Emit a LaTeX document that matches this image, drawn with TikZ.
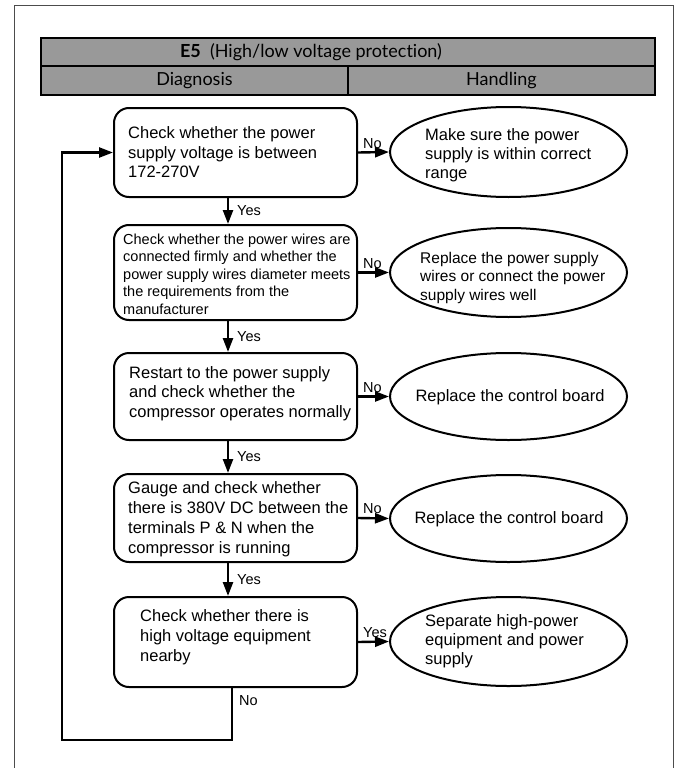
\documentclass[tikz,border=0pt]{standalone}
\usepackage{fontspec}
\setmainfont{Liberation Sans}
\newfontfamily\headfont[Ligatures=NoCommon]{Lato}
\usetikzlibrary{positioning}
\usetikzlibrary{arrows.meta}
\usetikzlibrary{shapes.geometric}

\tikzset{
  headcell/.style={draw, line width=1.8pt, fill=black!40, inner sep=0pt, font=\headfont\fontsize{18}{20}\selectfont},
  checkbox/.style={draw, line width=2pt, rounded corners=15pt, minimum width=243pt, inner sep=0pt},
  handlebox/.style={draw, line width=2pt, ellipse, minimum width=237pt, inner sep=0pt},
  boxtext/.style={anchor=west, align=left, inner sep=0pt, font=\fontsize{16.5}{19.5}\selectfont},
  handletext/.style={align=left, inner sep=0pt, font=\fontsize{16.5}{19}\selectfont},
  flow/.style={line width=2.4pt, -{Triangle[length=14pt,width=10pt]}},
  answer/.style={inner sep=0pt, font=\fontsize{14.5}{17}\selectfont},
}

\begin{document}
\begin{tikzpicture}[x=1pt, y=-1pt]
    \useasboundingbox (0,0) rectangle (683,768);
    \draw[black!70, line width=1pt] (14,768) -- (14,6) -- (673,6) -- (673,768);

    % header
    \node[headcell, minimum width=614pt, minimum height=28pt] (title) at (348,52) {};
    \node[inner sep=0pt, font=\headfont\fontsize{18}{20}\selectfont] (titletext) at (311,52) {\textbf{E5}\ \ (High/low voltage protection)};
    \node[headcell, minimum width=307pt, minimum height=29pt] (diag) at (194.5,80.5) {Diagnosis};
    \node[headcell, minimum width=307pt, minimum height=29pt] (hand) at (501.5,80.5) {Handling};

    % diagnosis steps
    \node[checkbox, minimum height=89pt] (c1) at (235.5,152.5) {};
    \node[boxtext] (t1) at (128,152.5) {Check whether the power\\supply voltage is between\\172-270V};

    \node[checkbox, minimum height=95pt] (c2) at (235.5,272.5) {};
    \node[boxtext, font=\fontsize{14.5}{17.5}\selectfont] (t2) at (123,274) {Check whether the power wires are\\connected firmly and whether the\\power supply wires diameter meets\\the requirements from the\\manufacturer};

    \node[checkbox, minimum height=87pt] (c3) at (235.5,396.5) {};
    \node[boxtext] (t3) at (129,393.5) {Restart to the power supply\\and check whether the\\compressor operates normally};

    \node[checkbox, minimum height=88pt] (c4) at (235.5,518) {};
    \node[boxtext, font=\fontsize{16.5}{20}\selectfont] (t4) at (128,519) {Gauge and check whether\\there is 380V DC between the\\terminals P \& N when the\\compressor is running};

    \node[checkbox, minimum height=90pt] (c5) at (235.5,642) {};
    \node[boxtext, font=\fontsize{16.5}{20}\selectfont] (t5) at (140,637) {Check whether there is\\high voltage equipment\\nearby};

    % handling
    \node[handlebox, minimum height=90pt] (h1) at (508.5,152) {};
    \node[handletext, anchor=west] (s1) at (425,155.5) {Make sure the power\\supply is within correct\\range};

    \node[handlebox, minimum height=89pt] (h2) at (508.5,272.5) {};
    \node[handletext, anchor=west, font=\fontsize{15.5}{18.5}\selectfont] (s2) at (420,277.5) {Replace the power supply\\wires or connect the power\\supply wires well};

    \node[handlebox, minimum height=87pt] (h3) at (508.5,396.5) {};
    \node[handletext] (s3) at (510,397) {Replace the control board};

    \node[handlebox, minimum height=87pt] (h4) at (508.5,518.5) {};
    \node[handletext] (s4) at (509,519) {Replace the control board};

    \node[handlebox, minimum height=89pt] (h5) at (508.5,641.5) {};
    \node[handletext, anchor=west] (s5) at (425,641) {Separate high-power\\equipment and power\\supply};

    % yes arrows
    \draw[flow] ([xshift=-7.5pt]c1.south) -- ([xshift=-7.5pt]c2.north) node[answer, midway, right=8pt] {Yes};
    \draw[flow] ([xshift=-7.5pt]c2.south) -- ([xshift=-7.5pt]c3.north) node[answer, midway, right=8pt] {Yes};
    \draw[flow] ([xshift=-7.5pt]c3.south) -- ([xshift=-7.5pt]c4.north) node[answer, midway, right=8pt] {Yes};
    \draw[flow] ([xshift=-7.5pt]c4.south) -- ([xshift=-7.5pt]c5.north) node[answer, midway, right=8pt] {Yes};

    % no arrows
    \draw[flow] (c1.east) -- (h1.west) node[answer, pos=0, above right=3pt and 4pt] {No};
    \draw[flow] (c2.east) -- (h2.west) node[answer, pos=0, above right=3pt and 4pt] {No};
    \draw[flow] (c3.east) -- (h3.west) node[answer, pos=0, above right=3pt and 4pt] {No};
    \draw[flow] (c4.east) -- (h4.west) node[answer, pos=0, above right=3pt and 4pt] {No};
    \draw[flow] (c5.east) -- (h5.west) node[answer, pos=0, above right=3pt and 4pt] {Yes};

    % back to the start
    \coordinate (loopcorner) at (62,740);
    \draw[flow] ([xshift=-3.5pt]c5.south) |- (loopcorner) node[answer, pos=0.12, right=6pt] {No} |- (c1.west);
\end{tikzpicture}
\end{document}
